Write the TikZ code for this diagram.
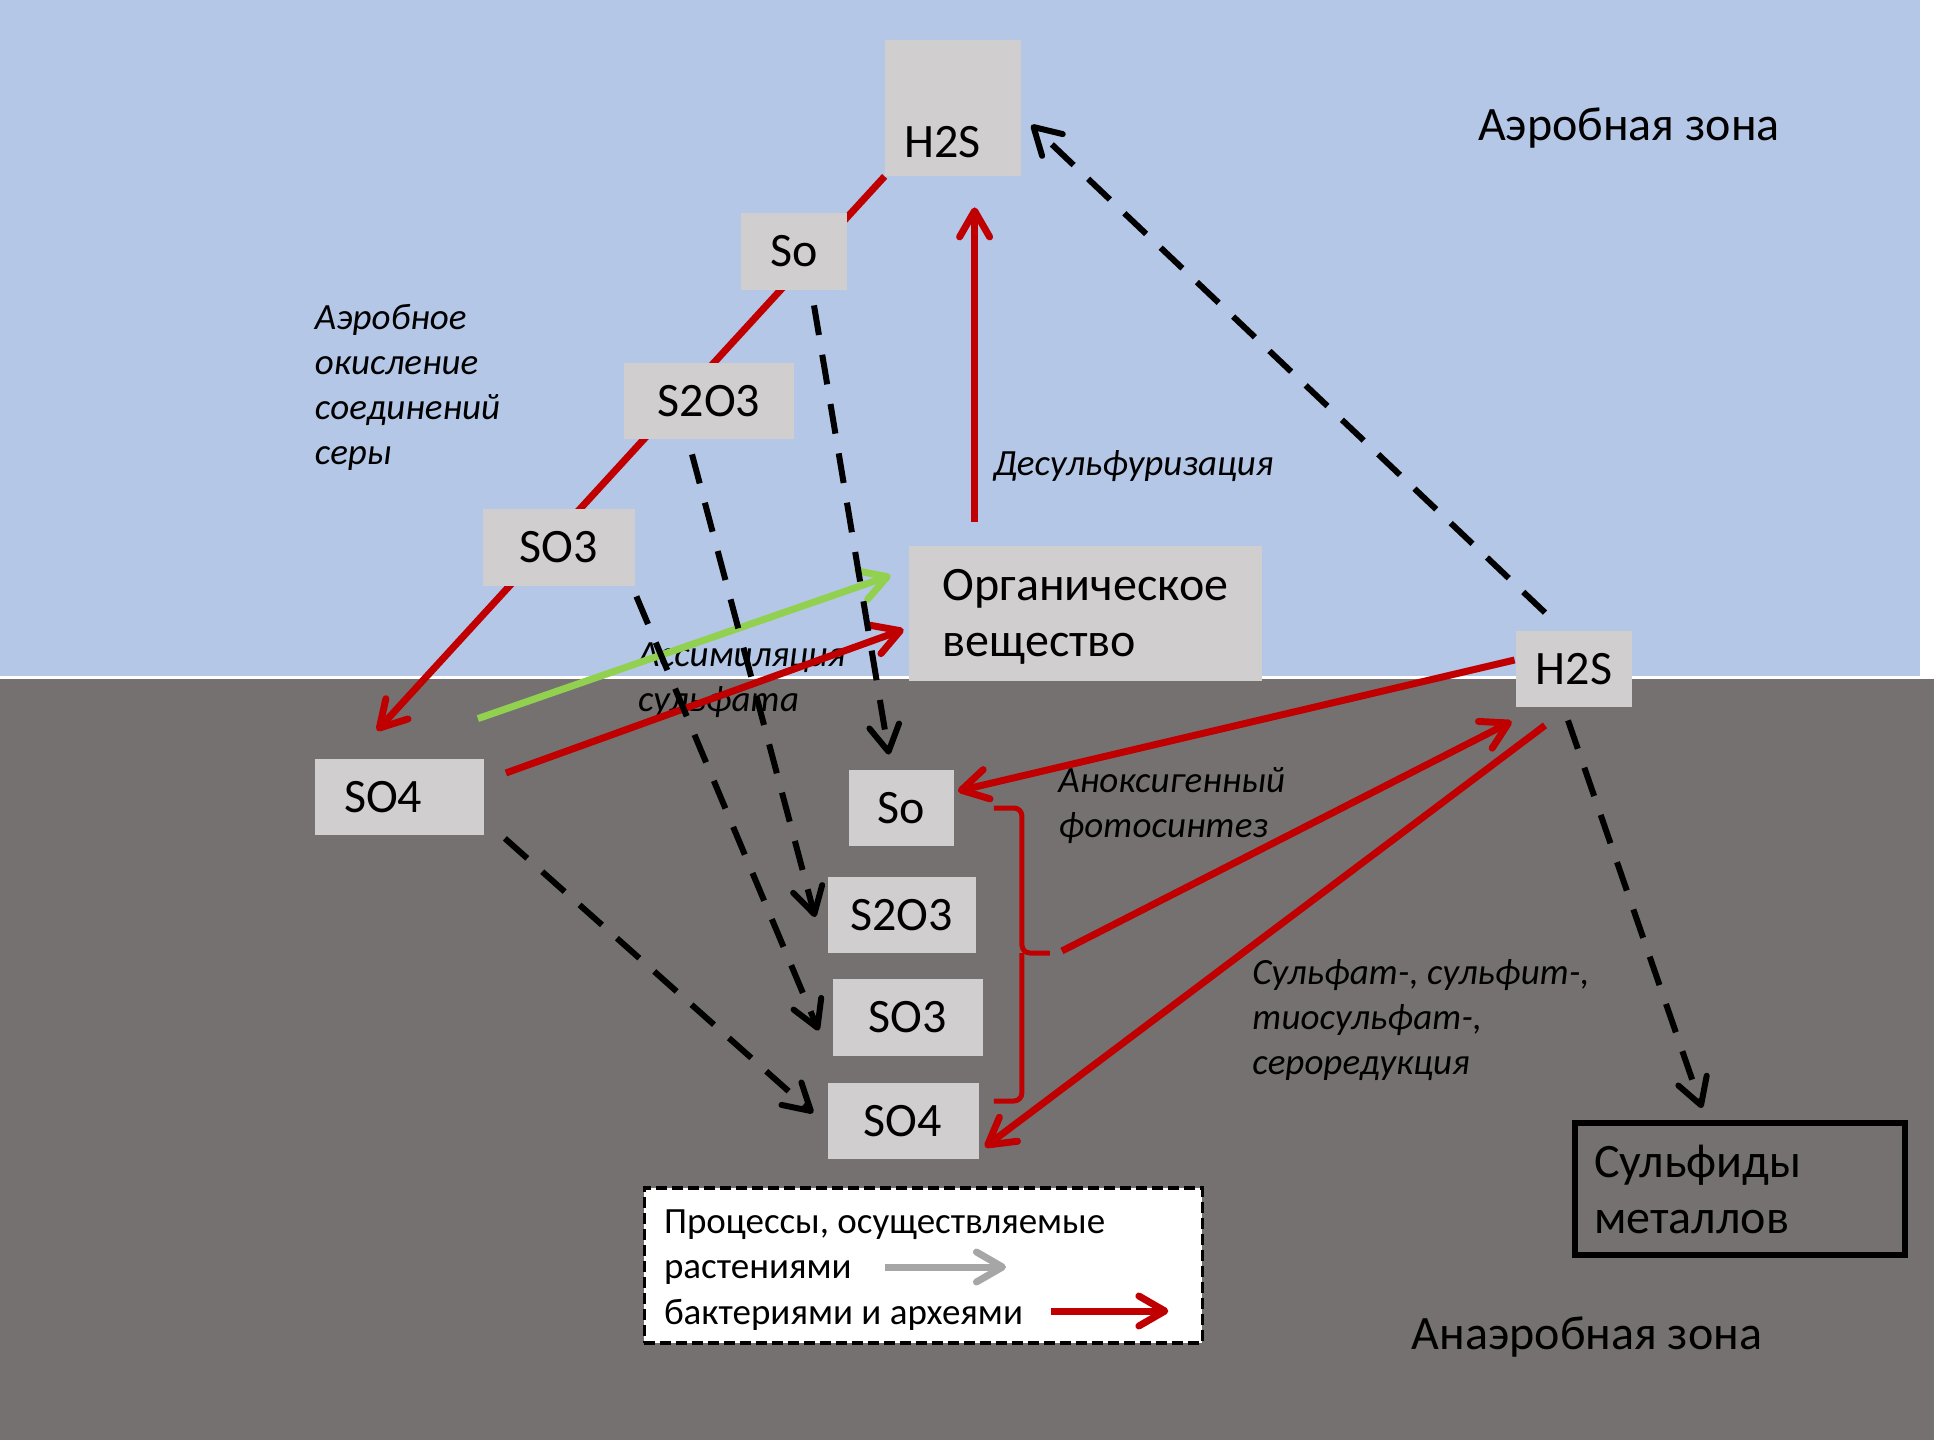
\documentclass[tikz,border=0pt]{standalone}
\usepackage{fontspec}
\setmainfont{Carlito}
\usepackage{tikz}
\usetikzlibrary{arrows.meta,calc,backgrounds}
\definecolor{sky}{HTML}{B4C7E7}
\definecolor{mud}{HTML}{767171}
\definecolor{cell}{HTML}{D0CECE}
\definecolor{bact}{HTML}{C00000}
\definecolor{plant}{HTML}{92D050}
\definecolor{legar}{HTML}{A6A6A6}
\tikzset{
  cellb/.style={fill=cell, inner sep=0pt, font=\fontsize{24}{28}\selectfont},
  zone/.style={inner sep=0pt, font=\fontsize{24}{28}\selectfont},
  lbl/.style={inner sep=0pt, anchor=west, align=left,
              font=\fontsize{18.5}{22.5}\selectfont\itshape},
  lgt/.style={inner sep=0pt, anchor=west, font=\fontsize{18.5}{22.5}\selectfont},
  barb/.style={-{Straight Barb[length=13pt,width=15pt,round]}},
  redar/.style={barb, draw=bact, line width=3.5pt},
  grnar/.style={barb, draw=plant, line width=3.5pt},
  grayar/.style={barb, draw=legar, line width=3.5pt},
  dashar/.style={barb, draw=black, line width=3pt, dash pattern=on 15pt off 10pt},
  brk/.style={draw=bact, line width=2.5pt, rounded corners=4pt},
}
\begin{document}
\begin{tikzpicture}[x=0.5pt, y=-0.5pt]
  \useasboundingbox (0,0) rectangle (1934,1440);

  % --- соединения серы в аэробной зоне ---
  \node[cellb, minimum width=68pt, minimum height=68pt, text width=48.5pt,
        inner xsep=9.75pt, align=left,
        text height=58.5pt, text depth=9.5pt] (h2sTop) at (953,108) {H2S};
  \node[cellb, minimum width=53pt, minimum height=38.5pt] (soT) at (794,251.5) {So};
  \node[cellb, minimum width=85pt, minimum height=38pt] (s2o3T) at (709,401) {S2O3};
  \node[cellb, minimum width=76pt, minimum height=38.5pt] (so3T) at (559,547.5) {SO3};
  \node[cellb, minimum width=176.5pt, minimum height=67.5pt, align=left]
       (org) at (1085.5,613.5) {\rule{0pt}{19pt}Органическое\\вещество};

  % --- анаэробная зона ---
  \node[cellb, minimum width=58pt, minimum height=38pt] (h2sR) at (1574,669) {H2S};
  \node[cellb, minimum width=84.5pt, minimum height=38pt, text width=55pt,
        inner xsep=14.75pt, align=left] (so4L) at (399,797) {SO4};
  \node[cellb, minimum width=52.5pt, minimum height=38pt] (soB) at (901,808) {So};
  \node[cellb, minimum width=74pt, minimum height=38pt] (s2o3B) at (901.5,915) {S2O3};
  \node[cellb, minimum width=75pt, minimum height=38.5pt] (so3B) at (908,1017.5) {SO3};
  \node[cellb, minimum width=75.5pt, minimum height=38pt] (so4B) at (903,1121) {SO4};
  \node[draw=black, line width=3pt, minimum width=165pt, minimum height=66pt,
        text width=146pt, inner xsep=9.5pt, align=left,
        font=\fontsize{24}{28}\selectfont] (metals) at (1740,1189) {Сульфиды\\металлов};

  % --- подписи ---
  \node[zone] (aero) at (1629,128.5) {Аэробная зона};
  \node[zone] (anaero) at (1587,1337) {Анаэробная зона};
  \node[lbl] (oxid) at (314.5,387) {Аэробное\\окисление\\соединений\\серы};
  \node[lbl] (desulf) at (993,466.5) {Десульфуризация};
  \node[lbl] (assim) at (637.7,680.5) {Ассимиляция\\сульфата};
  \node[lbl] (anox) at (1058,806) {Аноксигенный\\фотосинтез};
  \node[lbl] (reduct) at (1252,1019.7) {Сульфат-, сульфит-,\\тиосульфат-,\\сероредукция};

  % --- легенда ---
  \node[draw=black, fill=white, line width=1.75pt, dash pattern=on 5.5pt off 2.5pt,
        minimum width=279pt, minimum height=77.5pt, inner sep=0pt]
       (legend) at (923.3,1265.5) {};
  \node[lgt] (lg1) at (663.6,1225) {Процессы, осуществляемые};
  \node[lgt] (lg2) at (663.6,1272) {растениями};
  \node[lgt] (lg3) at (663.6,1315) {бактериями и археями};
  \draw[grayar] ($(lg2.east)+(33,-5)$) -- ++(121,0);
  \draw[redar] ($(lg3.east)+(28,-4)$) -- ++(117,0);

  % --- фон и цепочка окисления под блоками ---
  \begin{scope}[on background layer]
    \fill[white] (0,0) rectangle (1934,1440);
    \fill[sky] (0,0) rectangle (1920,676);
    \fill[mud] (0,679) rectangle (1934,1440);
    \draw[redar] (h2sTop.south west) -- ($(so4L.north)+(-22,-28)$);
  \end{scope}

  % --- растения и бактерии ---
  \draw[redar] ($(org.north west)+(66,-24)$) -- ($(h2sTop.south west)+(90,31)$);
  \draw[grnar] ($(so4L.north east)+(-6,-40)$) -- ($(org.west)+(-18,-38)$);
  \draw[redar] ($(so4L.east)+(22,-24)$) -- ($(org.west)+(-5,16)$);

  % --- химические переходы ---
  \draw[dashar] ($(soT.south)+(20,15)$) -- ($(soB.north)+(-12,-15)$);
  \draw[dashar] ($(s2o3T.south)+(-17,15)$) -- ($(s2o3B.west)+(-12,2)$);
  \draw[dashar] ($(so3T.south east)+(1,10)$) -- ($(so3B.west)+(-14,13)$);
  \draw[dashar] ($(so4L.south east)+(21,3)$) -- ($(so4B.west)+(-14,-8)$);
  \draw[dashar] ($(h2sR.north)+(-29,-18)$) -- ($(h2sTop.east)+(10,17)$);
  \draw[dashar] ($(h2sR.south)+(-6,13)$) -- ($(metals.north)+(-38,-12)$);

  % --- скобка So..SO4 ---
  \coordinate (brTop) at ($(soB.east)+(40,0)$);
  \coordinate (brBot) at ($(so4B.east)+(15,-20)$);
  \coordinate (brTip) at ($(brTop)+(56,145)$);
  \coordinate (brMid) at ($(brTip)+(-28,0)$);
  \draw[brk] (brTop) -| (brMid) -- (brTip);
  \draw[brk] (brBot) -| (brMid);

  % --- фотосинтез и восстановление ---
  \draw[redar] ($(h2sR.west)+(-1,-9)$) -- ($(soB.east)+(4,-17)$);
  \draw[redar] ($(brTip)+(12,-2)$) -- ($(h2sR.south west)+(-4,14)$);
  \draw[redar] ($(h2sR.south)+(-29,18)$) -- ($(so4B.east)+(6,26)$);
\end{tikzpicture}
\end{document}
